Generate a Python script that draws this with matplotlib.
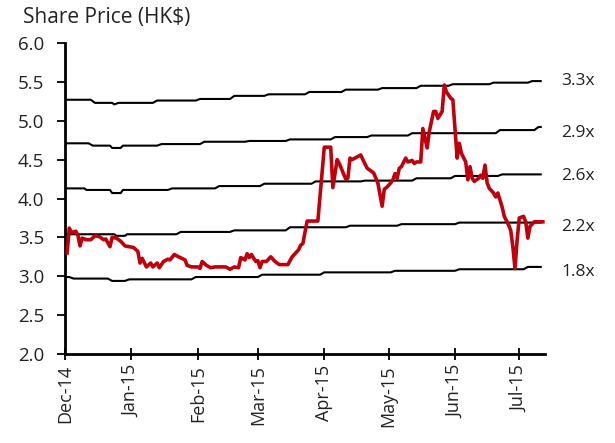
import matplotlib
matplotlib.use('Agg')
import matplotlib.pyplot as plt
import matplotlib.dates as mdates
import pandas as pd

plt.rcParams['font.family'] = ['Open Sans', 'DejaVu Sans']

# ---------------- data ----------------
title = "Share Price (HK$)"

price_dates = [
    "2014-12-02", "2014-12-03", "2014-12-04", "2014-12-06", "2014-12-07", "2014-12-08",
    "2014-12-09", "2014-12-11", "2014-12-13", "2014-12-15", "2014-12-17", "2014-12-19",
    "2014-12-20", "2014-12-22", "2014-12-23", "2014-12-25", "2014-12-27", "2014-12-29",
    "2014-12-31", "2015-01-02", "2015-01-04", "2015-01-05", "2015-01-06", "2015-01-08",
    "2015-01-10", "2015-01-11", "2015-01-13", "2015-01-14", "2015-01-16", "2015-01-18",
    "2015-01-19", "2015-01-21", "2015-01-23", "2015-01-26", "2015-01-27", "2015-01-29",
    "2015-02-01", "2015-02-02", "2015-02-03", "2015-02-05", "2015-02-07", "2015-02-09",
    "2015-02-14", "2015-02-16", "2015-02-18", "2015-02-20", "2015-02-21", "2015-02-23",
    "2015-02-24", "2015-02-25", "2015-02-26", "2015-02-28", "2015-03-01", "2015-03-02",
    "2015-03-03", "2015-03-05", "2015-03-07", "2015-03-09", "2015-03-11", "2015-03-15",
    "2015-03-17", "2015-03-20", "2015-03-21", "2015-03-22", "2015-03-24", "2015-03-29",
    "2015-04-01", "2015-04-04", "2015-04-05", "2015-04-07", "2015-04-08", "2015-04-11",
    "2015-04-12", "2015-04-13", "2015-04-14", "2015-04-16", "2015-04-18", "2015-04-19",
    "2015-04-21", "2015-04-22", "2015-04-24", "2015-04-26", "2015-04-27", "2015-04-28",
    "2015-04-29", "2015-04-30", "2015-05-02", "2015-05-03", "2015-05-04", "2015-05-05",
    "2015-05-06", "2015-05-07", "2015-05-09", "2015-05-10", "2015-05-12", "2015-05-13",
    "2015-05-14", "2015-05-16", "2015-05-17", "2015-05-19", "2015-05-20", "2015-05-22",
    "2015-05-23", "2015-05-24", "2015-05-26", "2015-05-27", "2015-05-28", "2015-05-30",
    "2015-05-31", "2015-06-02", "2015-06-03", "2015-06-04", "2015-06-06", "2015-06-07",
    "2015-06-08", "2015-06-09", "2015-06-10", "2015-06-12", "2015-06-13", "2015-06-14",
    "2015-06-15", "2015-06-16", "2015-06-17", "2015-06-19", "2015-06-20", "2015-06-21",
    "2015-06-23", "2015-06-24", "2015-06-26", "2015-06-27", "2015-06-28", "2015-06-29",
    "2015-06-30", "2015-07-01", "2015-07-03", "2015-07-04", "2015-07-05", "2015-07-06",
    "2015-07-08", "2015-07-12",
]
price_values = [
    3.30, 3.62, 3.56, 3.58, 3.53, 3.39,
    3.49, 3.47, 3.47, 3.52, 3.51, 3.47,
    3.48, 3.38, 3.50, 3.49, 3.45, 3.39,
    3.38, 3.37, 3.32, 3.17, 3.23, 3.12,
    3.17, 3.12, 3.17, 3.11, 3.19, 3.22,
    3.21, 3.28, 3.25, 3.21, 3.14, 3.12,
    3.12, 3.10, 3.19, 3.14, 3.11, 3.12,
    3.12, 3.09, 3.12, 3.11, 3.24, 3.21,
    3.29, 3.24, 3.28, 3.19, 3.20, 3.11,
    3.19, 3.19, 3.25, 3.19, 3.15, 3.15,
    3.25, 3.34, 3.40, 3.42, 3.71, 3.71,
    4.66, 4.66, 4.14, 4.50, 4.45, 4.25,
    4.26, 4.52, 4.50, 4.53, 4.56, 4.50,
    4.39, 4.37, 4.33, 4.20, 4.05, 3.90,
    4.12, 4.14, 4.20, 4.24, 4.32, 4.26,
    4.39, 4.41, 4.52, 4.47, 4.49, 4.45,
    4.47, 4.47, 4.90, 4.65, 4.86, 5.12,
    5.12, 5.03, 5.12, 5.46, 5.37, 5.29,
    5.27, 4.52, 4.71, 4.58, 4.47, 4.24,
    4.41, 4.26, 4.22, 4.26, 4.30, 4.26,
    4.43, 4.20, 4.13, 4.07, 4.02, 4.07,
    3.89, 3.77, 3.66, 3.59, 3.38, 3.10,
    3.47, 3.75, 3.77, 3.70, 3.49, 3.64,
    3.70, 3.70,
]

band_labels = ["3.3x", "2.9x", "2.6x", "2.2x", "1.8x"]

band_33_dates = ["2014-12-01", "2014-12-13", "2014-12-15", "2014-12-23", "2014-12-24",
                 "2014-12-26", "2015-01-11", "2015-01-13", "2015-01-31", "2015-02-02",
                 "2015-02-16", "2015-02-18", "2015-03-04", "2015-03-06", "2015-03-23",
                 "2015-03-25", "2015-04-09", "2015-04-11", "2015-04-26", "2015-04-28",
                 "2015-05-14", "2015-05-16", "2015-05-29", "2015-05-31", "2015-06-17",
                 "2015-06-19", "2015-07-05", "2015-07-07", "2015-07-11"]
band_33_values = [5.27, 5.27, 5.23, 5.23, 5.21,
                  5.23, 5.23, 5.26, 5.26, 5.28,
                  5.28, 5.32, 5.32, 5.34, 5.34,
                  5.37, 5.37, 5.40, 5.40, 5.42,
                  5.42, 5.45, 5.45, 5.47, 5.47,
                  5.49, 5.49, 5.51, 5.51]

band_29_dates = ["2014-12-01", "2014-12-12", "2014-12-14", "2014-12-22", "2014-12-23",
                 "2014-12-27", "2014-12-28", "2015-01-13", "2015-01-15", "2015-02-02",
                 "2015-02-04", "2015-02-23", "2015-02-25", "2015-03-14", "2015-03-16",
                 "2015-04-04", "2015-04-06", "2015-04-21", "2015-04-23", "2015-05-10",
                 "2015-05-12", "2015-06-20", "2015-06-22", "2015-07-08", "2015-07-10",
                 "2015-07-11"]
band_29_values = [4.71, 4.71, 4.68, 4.68, 4.65,
                  4.65, 4.68, 4.68, 4.70, 4.70,
                  4.73, 4.73, 4.74, 4.74, 4.76,
                  4.76, 4.79, 4.79, 4.81, 4.81,
                  4.84, 4.84, 4.88, 4.88, 4.92,
                  4.92]

band_26_dates = ["2014-12-01", "2014-12-10", "2014-12-11", "2014-12-22", "2014-12-23",
                 "2014-12-27", "2014-12-28", "2015-01-18", "2015-01-20", "2015-02-09",
                 "2015-02-11", "2015-03-02", "2015-03-04", "2015-03-26", "2015-03-28",
                 "2015-04-18", "2015-04-20", "2015-05-12", "2015-05-14", "2015-05-30",
                 "2015-06-01", "2015-06-21", "2015-06-23", "2015-07-11"]
band_26_values = [4.13, 4.13, 4.11, 4.11, 4.07,
                  4.07, 4.11, 4.11, 4.13, 4.13,
                  4.16, 4.16, 4.19, 4.19, 4.22,
                  4.22, 4.23, 4.23, 4.26, 4.26,
                  4.29, 4.29, 4.31, 4.31]

band_22_dates = ["2014-12-01", "2014-12-24", "2014-12-25", "2014-12-29", "2014-12-30",
                 "2015-01-22", "2015-01-24", "2015-02-16", "2015-02-18", "2015-03-14",
                 "2015-03-16", "2015-04-11", "2015-04-13", "2015-05-05", "2015-05-07",
                 "2015-06-01", "2015-06-03", "2015-07-11"]
band_22_values = [3.54, 3.54, 3.52, 3.52, 3.54,
                  3.54, 3.57, 3.57, 3.59, 3.59,
                  3.63, 3.63, 3.65, 3.65, 3.67,
                  3.67, 3.69, 3.69]

band_18_dates = ["2014-12-01", "2014-12-03", "2014-12-05", "2014-12-21", "2014-12-23",
                 "2014-12-29", "2014-12-31", "2015-01-29", "2015-01-31", "2015-03-01",
                 "2015-03-03", "2015-03-30", "2015-04-01", "2015-05-02", "2015-05-04",
                 "2015-06-01", "2015-06-03", "2015-07-03", "2015-07-05", "2015-07-11"]
band_18_values = [2.99, 2.99, 2.97, 2.97, 2.94,
                  2.94, 2.96, 2.96, 2.99, 2.99,
                  3.02, 3.02, 3.05, 3.05, 3.07,
                  3.07, 3.09, 3.09, 3.12, 3.12]

month_ticks = ["2014-12-01", "2015-01-01", "2015-02-01", "2015-03-01",
               "2015-04-01", "2015-05-01", "2015-06-01", "2015-07-01"]
y_ticks = [2.0, 2.5, 3.0, 3.5, 4.0, 4.5, 5.0, 5.5, 6.0]

# ---------------- plot ----------------
fig = plt.figure(figsize=(6.15, 4.43), dpi=100)
ax = fig.add_axes([65 / 615, 1 - 354 / 443, (545 - 65) / 615, (354 - 43) / 443])

bands = [
    (band_33_dates, band_33_values),
    (band_29_dates, band_29_values),
    (band_26_dates, band_26_values),
    (band_22_dates, band_22_values),
    (band_18_dates, band_18_values),
]
label_offsets = [0, -4, -1, -3, -4]
for (bd, bv), lab, off in zip(bands, band_labels, label_offsets):
    d = pd.to_datetime(bd)
    ax.plot(d, bv, color='black', lw=1.5, solid_joinstyle='round', zorder=2)
    ax.annotate(lab, xy=(d[-1], bv[-1]), xytext=(15, off), textcoords='offset points',
                ha='left', va='center', fontsize=12.5, color='#222222', annotation_clip=False)

ax.plot(pd.to_datetime(price_dates), price_values, color='#C0000B', lw=2.6,
        solid_joinstyle='round', zorder=3)

ax.set_ylim(2.0, 6.0)
ax.set_yticks(y_ticks)
ax.set_yticklabels([f"{v:.1f}" for v in y_ticks], fontsize=13.5, color='#222222')
ax.set_xlim(pd.Timestamp("2014-12-01"), pd.Timestamp("2015-07-13"))
ax.set_xticks(pd.to_datetime(month_ticks))
ax.xaxis.set_major_formatter(mdates.DateFormatter('%b-%y'))
for lbl in ax.get_xticklabels():
    lbl.set_rotation(90)
    lbl.set_fontsize(13)
    lbl.set_color('#222222')

for s in ['top', 'right']:
    ax.spines[s].set_visible(False)
for s in ['left', 'bottom']:
    ax.spines[s].set_linewidth(2.0)
    ax.spines[s].set_color('black')
ax.tick_params(axis='y', direction='out', length=6, width=1.3, pad=9)
ax.tick_params(axis='x', direction='inout', length=8, width=1.3, pad=4)

fig.text(23 / 615, 1 - 17 / 443, title, fontsize=15, ha='left', va='center', color='#222222')

fig.savefig('out.png', dpi=100)
